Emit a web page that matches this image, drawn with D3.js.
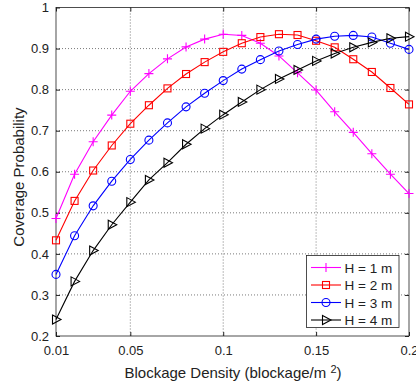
<!DOCTYPE html>
<html lang="en">
<head>
<meta charset="UTF-8" />
<title>Coverage Probability</title>
<script src="https://cdn.jsdelivr.net/npm/d3@7"></script>
<style>
  body { margin: 0; background: #fff; }
  text { font-family: "Liberation Sans", Arial, sans-serif; }
</style>
</head>
<body>
<svg width="416" height="388"></svg>
<script>
// blockage density values (x)
const density = [0.01, 0.02, 0.03, 0.04, 0.05, 0.06, 0.07, 0.08, 0.09, 0.10,
                 0.11, 0.12, 0.13, 0.14, 0.15, 0.16, 0.17, 0.18, 0.19, 0.20];

const h1 = [0.486, 0.594, 0.673, 0.738, 0.796, 0.839, 0.875, 0.904, 0.923, 0.935,
            0.932, 0.913, 0.882, 0.841, 0.799, 0.746, 0.696, 0.644, 0.594, 0.547];
const h2 = [0.433, 0.529, 0.603, 0.664, 0.717, 0.762, 0.803, 0.838, 0.867, 0.892,
            0.913, 0.928, 0.935, 0.933, 0.919, 0.903, 0.874, 0.843, 0.804, 0.764];
const h3 = [0.350, 0.444, 0.517, 0.577, 0.630, 0.677, 0.719, 0.758, 0.791, 0.822,
            0.850, 0.873, 0.894, 0.910, 0.923, 0.930, 0.932, 0.928, 0.913, 0.898];
const h4 = [0.240, 0.333, 0.408, 0.471, 0.526, 0.580, 0.622, 0.667, 0.705, 0.739,
            0.770, 0.800, 0.826, 0.848, 0.870, 0.888, 0.903, 0.915, 0.925, 0.929];

const seriesNames = ["H = 1 m", "H = 2 m", "H = 3 m", "H = 4 m"];
const xTicks = [0.01, 0.05, 0.1, 0.15, 0.2];
const yTicks = [0.2, 0.3, 0.4, 0.5, 0.6, 0.7, 0.8, 0.9, 1];

const series = [
  { name: seriesNames[0], values: h1, color: "#ff00ff", marker: "plus" },
  { name: seriesNames[1], values: h2, color: "#ff0000", marker: "square" },
  { name: seriesNames[2], values: h3, color: "#0000ff", marker: "circle" },
  { name: seriesNames[3], values: h4, color: "#000000", marker: "triangle" }
];

const svg = d3.select("svg");
const plotL = 56, plotR = 409, plotT = 7.5, plotB = 336;

const x = d3.scaleLinear().domain([0.01, 0.2]).range([plotL, plotR]);
const y = d3.scaleLinear().domain([0.2, 1]).range([plotB, plotT]);

// grid
const grid = svg.append("g").attr("stroke", "#222").attr("stroke-width", 0.6)
  .attr("stroke-dasharray", "1,2");
grid.selectAll(".gx").data(xTicks.slice(1, -1)).join("line")
  .attr("x1", d => x(d)).attr("x2", d => x(d)).attr("y1", plotT).attr("y2", plotB);
grid.selectAll(".gy").data(yTicks.slice(1, -1)).join("line")
  .attr("y1", d => y(d)).attr("y2", d => y(d)).attr("x1", plotL).attr("x2", plotR);

// axes (ticks inside, MATLAB style)
const fmt = d => String(d);
svg.append("g").attr("transform", `translate(0,${plotB})`)
  .call(d3.axisBottom(x).tickValues(xTicks).tickFormat(fmt).tickSizeInner(-4).tickSizeOuter(0).tickPadding(10))
  .call(g => g.select(".domain").remove());
svg.append("g").attr("transform", `translate(${plotL},0)`)
  .call(d3.axisLeft(y).tickValues(yTicks).tickFormat(fmt).tickSizeInner(-4).tickSizeOuter(0).tickPadding(7))
  .call(g => g.select(".domain").remove());
svg.append("g").attr("transform", `translate(0,${plotT})`)
  .call(d3.axisTop(x).tickValues(xTicks).tickFormat("").tickSizeInner(-4).tickSizeOuter(0))
  .call(g => g.select(".domain").remove());
svg.append("g").attr("transform", `translate(${plotR},0)`)
  .call(d3.axisRight(y).tickValues(yTicks).tickFormat("").tickSizeInner(-4).tickSizeOuter(0))
  .call(g => g.select(".domain").remove());
svg.selectAll(".tick text").attr("font-size", 13).attr("fill", "#222")
  .style("font-family", "Liberation Sans, Arial, sans-serif");
svg.selectAll(".tick line").attr("stroke", "#222");

svg.append("rect").attr("x", plotL).attr("y", plotT)
  .attr("width", plotR - plotL).attr("height", plotB - plotT)
  .attr("fill", "none").attr("stroke", "#222").attr("stroke-width", 0.8);

function drawMarker(g, type, color) {
  if (type === "plus") {
    g.append("path").attr("d", "M-4.5,0H4.5M0,-4.5V4.5").attr("stroke", color).attr("stroke-width", 1.1);
  } else if (type === "square") {
    g.append("rect").attr("x", -3.5).attr("y", -3.5).attr("width", 7).attr("height", 7)
      .attr("fill", "none").attr("stroke", color).attr("stroke-width", 1.1);
  } else if (type === "circle") {
    g.append("circle").attr("r", 4).attr("fill", "none").attr("stroke", color).attr("stroke-width", 1.1);
  } else {
    g.append("path").attr("d", "M-3.5,-4.5L5,0L-3.5,4.5Z").attr("fill", "none")
      .attr("stroke", color).attr("stroke-width", 1.1);
  }
}

const line = d3.line().x((d, i) => x(density[i])).y(d => y(d));

series.forEach(s => {
  svg.append("path").datum(s.values).attr("d", line)
    .attr("fill", "none").attr("stroke", s.color).attr("stroke-width", 1.1);
  s.values.forEach((v, i) => {
    const g = svg.append("g").attr("transform", `translate(${x(density[i])},${y(v)})`);
    drawMarker(g, s.marker, s.color);
  });
});

// legend
const legend = svg.append("g");
legend.append("rect").attr("x", 306.5).attr("y", 255.5).attr("width", 92.5).attr("height", 72)
  .attr("fill", "#fff").attr("stroke", "#222").attr("stroke-width", 0.8);
series.forEach((s, i) => {
  const ly = 267.5 + i * 17.5;
  legend.append("line").attr("x1", 311).attr("x2", 341).attr("y1", ly).attr("y2", ly)
    .attr("stroke", s.color).attr("stroke-width", 1.1);
  drawMarker(legend.append("g").attr("transform", `translate(326,${ly})`), s.marker, s.color);
  legend.append("text").attr("x", 344.5).attr("y", ly + 5).attr("font-size", 13.5)
    .attr("fill", "#222").text(s.name);
});

// axis labels
const xl = svg.append("text").attr("x", 233).attr("y", 378).attr("text-anchor", "middle")
  .attr("font-size", 15).attr("fill", "#222");
xl.append("tspan").text("Blockage Density (blockage/m ");
xl.append("tspan").attr("dy", -5).attr("font-size", 11).text("2");
xl.append("tspan").attr("dy", 5).text(")");

svg.append("text").attr("transform", "translate(24,177) rotate(-90)")
  .attr("text-anchor", "middle").attr("font-size", 15).attr("fill", "#222")
  .text("Coverage Probability");
</script>
</body>
</html>
